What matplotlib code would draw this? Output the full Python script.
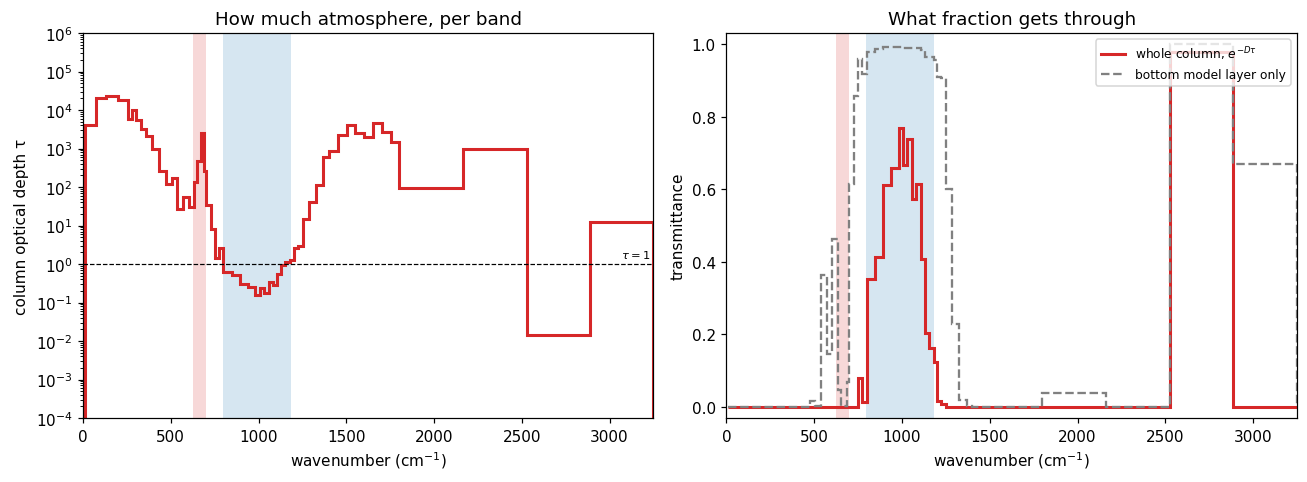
"""Column optical depth per band and the transmittance it implies (whole column vs bottom layer)."""
import numpy as np
import matplotlib
matplotlib.use("Agg")
import matplotlib.pyplot as plt

# band edges, cm^-1
edges = [10, 72, 131, 197, 254, 281, 304, 332, 357, 393, 431, 474, 505, 537, 571,
         601, 633, 652, 670, 687, 700, 728, 750, 772, 799, 848, 894, 937, 982, 1007,
         1030, 1058, 1082, 1107, 1130, 1152, 1181, 1201, 1225, 1252, 1287, 1327, 1368,
         1401, 1453, 1504, 1550, 1601, 1652, 1703, 1755, 1800, 2165, 2529, 2888, 3250]

# column optical depth per band
tau_column = [4200, 20000, 23000, 18000, 6000, 10000, 5500, 3200, 2100, 970,
              256, 117, 171, 27, 55, 30, 135, 475, 2500, 265,
              35, 8.1, 1.46, 2.6, 0.61, 0.51, 0.30, 0.26, 0.157, 0.24,
              0.18, 0.335, 0.29, 0.54, 0.95, 1.10, 1.26, 2.6, 2.9, 14.8,
              42, 112, 600, 850, 2200, 4000, 2600, 1950, 4500, 2700,
              1500, 94, 1000, 0.0144, 12.6]

# whole-column transmittance per band
trans_column = [0, 0, 0, 0, 0, 0, 0, 0, 0, 0,
                0, 0, 0, 0, 0, 0, 0, 0, 0, 0,
                0, 0, 0.08, 0.013, 0.352, 0.413, 0.611, 0.658, 0.769, 0.666,
                0.737, 0.572, 0.615, 0.407, 0.203, 0.162, 0.125, 0.016, 0.008, 0,
                0, 0, 0, 0, 0, 0, 0, 0, 0, 0,
                0, 0, 0, 0.977, 0]

# bottom model layer transmittance per band
trans_bottom = [0, 0, 0, 0, 0, 0, 0, 0, 0, 0,
                0, 0.017, 0.004, 0.363, 0.146, 0.462, 0.048, 0.004, 0.002, 0.069,
                0.615, 0.856, 0.959, 0.916, 0.978, 0.985, 0.991, 0.992, 0.993, 0.99,
                0.99, 0.99, 0.99, 0.984, 0.965, 0.965, 0.956, 0.91, 0.905, 0.60,
                0.23, 0.02, 0.003, 0, 0, 0, 0, 0, 0, 0,
                0, 0.04, 0, 1.0, 0.67]

CO2_SPAN = (625, 700)
WINDOW_SPAN = (795, 1185)
RED = "#d62728"


def shade(ax):
    ax.axvspan(*CO2_SPAN, color="tab:red", alpha=0.18, lw=0)
    ax.axvspan(*WINDOW_SPAN, color="tab:blue", alpha=0.18, lw=0)


fig, (ax1, ax2) = plt.subplots(1, 2, figsize=(11.89, 4.39), dpi=110)
fig.subplots_adjust(left=0.0635, right=0.9916, top=0.9296, bottom=0.1325, wspace=0.128)

# left: optical depth
shade(ax1)
ax1.stairs(tau_column, edges, color=RED, lw=2)
ax1.axhline(1, color="black", ls="--", lw=0.8)
ax1.text(3230, 1.25, r"$\tau = 1$", ha="right", va="bottom", fontsize=7.5)
ax1.set_yscale("log")
ax1.set_ylim(1e-4, 1e6)
ax1.set_yticks([10.0 ** k for k in range(-4, 7)])
ax1.set_xlim(0, 3250)
ax1.set_xlabel("wavenumber (cm$^{-1}$)")
ax1.set_ylabel("column optical depth τ")
ax1.set_title("How much atmosphere, per band")

# right: transmittance
shade(ax2)
ax2.stairs(trans_column, edges, color=RED, lw=2, label=r"whole column, $e^{-D\tau}$")
ax2.stairs(trans_bottom, edges, color="gray", lw=1.5, ls="--", label="bottom model layer only")
ax2.set_xlim(0, 3250)
ax2.set_ylim(-0.03, 1.03)
ax2.set_xlabel("wavenumber (cm$^{-1}$)")
ax2.set_ylabel("transmittance")
ax2.set_title("What fraction gets through")
ax2.legend(loc="upper right", fontsize=8)

plt.savefig("out.png", dpi=110)
